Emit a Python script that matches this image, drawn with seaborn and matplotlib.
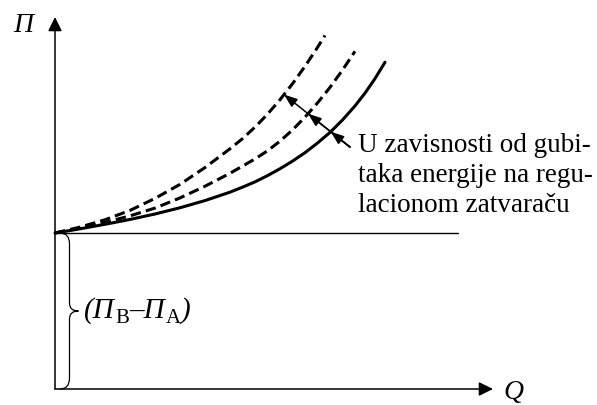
import numpy as np
import pandas as pd
import matplotlib
matplotlib.use("Agg")
import matplotlib.pyplot as plt
import seaborn as sns
from matplotlib.path import Path
from matplotlib.patches import PathPatch

# Static head (Pi_B - Pi_A), taken as the unit of the vertical axis
static_head = 1.0

# Pipeline characteristic Pi(Q): base curve and two curves with larger throttle-valve losses
q_base = [0.0, 0.25, 0.5, 0.75, 1.0, 1.25, 1.5, 1.75, 1.875, 2.0, 2.125, 2.25, 2.375,
          2.5, 2.625, 2.75, 2.875, 3.0, 3.1, 3.2, 3.3]
p_base = [1.0, 1.027, 1.056, 1.087, 1.122, 1.162, 1.208, 1.262, 1.294, 1.328, 1.368,
          1.412, 1.461, 1.515, 1.577, 1.645, 1.725, 1.815, 1.897, 1.99, 2.095]
q_mid = [0.0, 0.25, 0.5, 0.75, 1.0, 1.25, 1.5, 1.75, 2.0, 2.125, 2.25, 2.375, 2.5,
         2.625, 2.75, 2.875, 3.0]
p_mid = [1.0, 1.032, 1.068, 1.11, 1.16, 1.225, 1.30, 1.383, 1.475, 1.527, 1.589, 1.661,
         1.743, 1.834, 1.934, 2.045, 2.165]
q_top = [0.0, 0.25, 0.5, 0.75, 1.0, 1.25, 1.5, 1.75, 1.875, 2.0, 2.125, 2.25, 2.375,
         2.5, 2.625, 2.7]
p_top = [1.0, 1.038, 1.085, 1.145, 1.222, 1.312, 1.42, 1.54, 1.605, 1.679, 1.762, 1.855,
         1.957, 2.069, 2.19, 2.267]

# "Increasing losses" arrow: tail point and the flow rate where it reaches the top curve
arrow_tail = (2.95, 1.551)
arrow_end_q = 2.29

y_label = "Π"
x_label = "Q"
note_lines = ["U zavisnosti od gubi-", "taka energije na regu-", "lacionom zatvaraču"]

sns.set_theme(style="white")
plt.rcParams["font.family"] = ["Liberation Serif", "DejaVu Serif"]

fig = plt.figure(figsize=(5.97, 4.05), dpi=100)
ax = fig.add_axes([0, 0, 1, 1])

curves = pd.concat([
    pd.DataFrame({"Q": q_base, "P": p_base, "curve": "base"}),
    pd.DataFrame({"Q": q_mid, "P": p_mid, "curve": "mid"}),
    pd.DataFrame({"Q": q_top, "P": p_top, "curve": "top"}),
])
sns.lineplot(
    data=curves, x="Q", y="P", hue="curve", style="curve",
    palette={"base": "black", "mid": "black", "top": "black"},
    dashes={"base": "", "mid": (3.4, 1.7), "top": (3.4, 1.7)},
    linewidth=2.2, legend=False, ax=ax, sort=False,
)

# Frame so the origin sits near the lower-left corner
ax.set_xlim(-0.55, 5.42)
ax.set_ylim(-0.1026, 2.494)
ax.set_axis_off()

# Coordinate axes with arrow heads
axis_arrow = dict(arrowstyle="-|>,head_length=0.85,head_width=0.42",
                  color="black", lw=1.1, mutation_scale=10,
                  shrinkA=0, shrinkB=0)
ax.annotate("", xy=(0, 2.385), xytext=(0, 0), arrowprops=axis_arrow)
ax.annotate("", xy=(4.38, 0), xytext=(0, 0), arrowprops=axis_arrow)

# Static head level
ax.plot([0, 4.03], [static_head, static_head], color="black", lw=1.0)

# Arrows from a common tail to where the line crosses each curve
tq, tp = arrow_tail
end_p = np.interp(arrow_end_q, q_top, p_top)
slope = (end_p - tp) / (arrow_end_q - tq)
small_arrow = dict(arrowstyle="-|>,head_length=0.8,head_width=0.3",
                   color="black", lw=1.1, mutation_scale=10,
                   shrinkA=0, shrinkB=0)
grid = np.linspace(arrow_end_q - 0.05, tq, 800)
for qs, ps in [(q_base, p_base), (q_mid, p_mid), (q_top, p_top)]:
    diff = np.interp(grid, qs, ps) - (tp + slope * (grid - tq))
    qx = grid[np.argmin(np.abs(diff))]
    ax.annotate("", xy=(qx, tp + slope * (qx - tq)), xytext=arrow_tail,
                arrowprops=small_arrow)

# Curly brace spanning the static head
bx0, bx1, btip = 0.05, 0.145, 0.235
ym = static_head / 2
verts = [
    (bx0, static_head), (bx1, static_head), (bx1, static_head - 0.07),
    (bx1, ym + 0.05),
    (bx1, ym), (btip, ym),
    (bx1, ym), (bx1, ym - 0.05),
    (bx1, 0.07),
    (bx1, 0.0), (bx0, 0.0),
]
codes = [Path.MOVETO, Path.CURVE3, Path.CURVE3, Path.LINETO,
         Path.CURVE3, Path.CURVE3, Path.CURVE3, Path.CURVE3,
         Path.LINETO, Path.CURVE3, Path.CURVE3]
ax.add_patch(PathPatch(Path(verts, codes), facecolor="none",
                       edgecolor="black", lw=0.9))

# (Pi_B - Pi_A) label built from chained pieces
big, small = 21, 15
t0 = ax.text(0.29, 0.46, "(Π", fontsize=big, style="italic",
             ha="left", va="baseline", color="black")
t1 = ax.annotate("B", xy=(1, 0), xycoords=t0, xytext=(0.5, 0.3),
                 textcoords="offset points", fontsize=small,
                 ha="left", va="baseline", color="black")
t2 = ax.annotate("–Π", xy=(1, 0), xycoords=(t1, t0), xytext=(0, 0),
                 textcoords="offset points", fontsize=big, style="italic",
                 ha="left", va="bottom", color="black")
t3 = ax.annotate("A", xy=(1, 0), xycoords=t2, xytext=(0.5, 0.3),
                 textcoords="offset points", fontsize=small,
                 ha="left", va="baseline", color="black")
ax.annotate(")", xy=(1, 0), xycoords=(t3, t0), xytext=(0, 0),
            textcoords="offset points", fontsize=big, style="italic",
            ha="left", va="bottom", color="black")

# Axis labels
ax.text(-0.32, 2.33, y_label, fontsize=20, style="italic", ha="center",
        va="center", color="black")
ax.text(4.58, -0.025, x_label, fontsize=20, style="italic", ha="center",
        va="center", color="black")

# Explanatory note
for i, line in enumerate(note_lines):
    ax.text(3.03, 1.519 - i * 0.1923, line, fontsize=19.5, ha="left",
            va="baseline", color="black")

fig.savefig("out.png", dpi=100, facecolor="white")
